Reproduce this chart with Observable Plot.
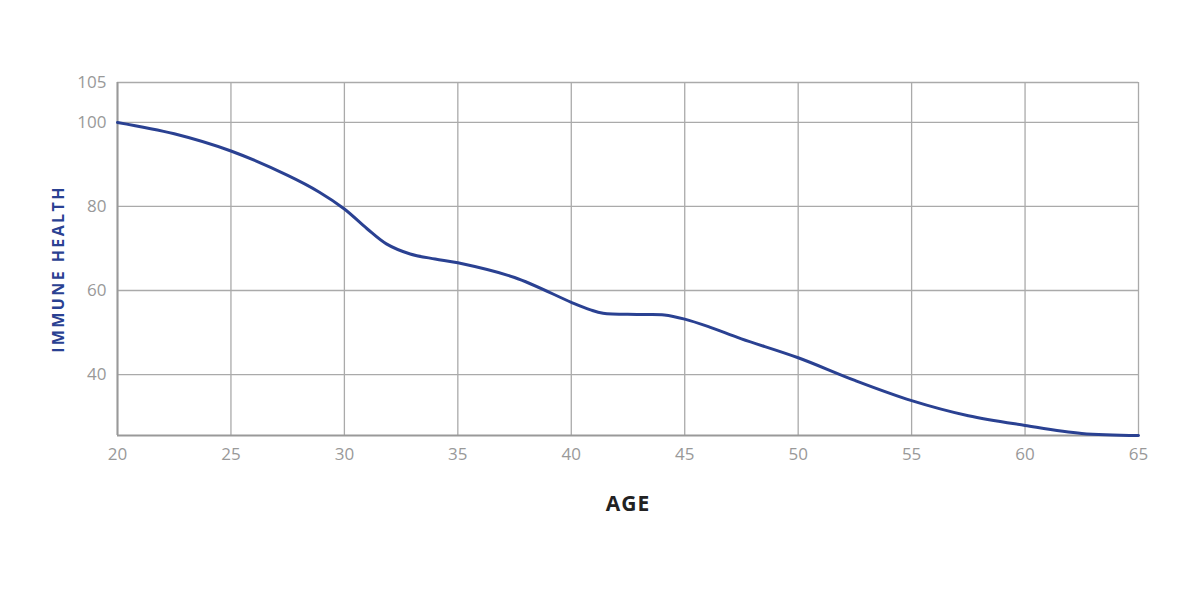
<!DOCTYPE html>
<html>
<head>
<meta charset="utf-8">
<script src="https://cdn.jsdelivr.net/npm/d3@7"></script>
<script src="https://cdn.jsdelivr.net/npm/@observablehq/plot@0.6"></script>
<style>
  html, body { margin: 0; padding: 0; background: #fff; }
  #chart svg { display: block; }
</style>
</head>
<body>
<div id="chart"></div>
<script>
const ages = [20, 22.5, 25, 27.5, 28.9, 30, 31, 31.85, 32.9, 34, 35, 37.5, 40, 40.85, 41.4, 42.9, 44.1, 45, 46.1, 47.5, 50, 52.5, 55, 57.5, 60, 62.5, 65];
const health = [100, 97.3, 93.2, 87.4, 83.4, 79.4, 74.7, 71.1, 68.7, 67.5, 66.6, 63.1, 57.2, 55.4, 54.6, 54.3, 54.2, 53.2, 51.3, 48.5, 44.0, 38.6, 33.8, 30.2, 27.9, 26.0, 25.5];
const xTicks = [20, 25, 30, 35, 40, 45, 50, 55, 60, 65];
// the top gridline sits at the top of the frame and is labelled "105" in the original
const yTicks = [40, 60, 80, 100, 109.5];
const yTickLabels = ["40", "60", "80", "100", "105"];
const xLabel = "AGE";
const yLabel = "IMMUNE HEALTH";

const data = ages.map((a, i) => ({age: a, health: health[i]}));
const font = "'Open Sans', 'Noto Sans', sans-serif";

const chart = Plot.plot({
  width: 1200,
  height: 600,
  marginLeft: 117,
  marginRight: 62,
  marginTop: 82,
  marginBottom: 165,
  style: {fontFamily: font, background: "#fff"},
  x: {domain: [20, 65]},
  y: {domain: [25.5, 109.5]},
  marks: [
    Plot.gridX(xTicks, {stroke: "#aaaaaa", strokeOpacity: 1, strokeWidth: 1.3}),
    Plot.gridY(yTicks, {stroke: "#aaaaaa", strokeOpacity: 1, strokeWidth: 1.3}),
    Plot.ruleX([20], {stroke: "#999999", strokeWidth: 2}),
    Plot.ruleY([25.5], {stroke: "#999999", strokeWidth: 2}),
    Plot.axisX(xTicks, {tickSize: 0, tickPadding: 12, fontSize: 17, fill: "#999999", label: null}),
    Plot.axisY(yTicks, {tickSize: 0, tickPadding: 11, fontSize: 17, fill: "#999999", label: null,
      tickFormat: (d) => yTickLabels[yTicks.indexOf(d)]}),
    Plot.line(data, {x: "age", y: "health", stroke: "#2a4192", strokeWidth: 3, curve: "catmull-rom"}),
    Plot.text([xLabel], {frameAnchor: "bottom", dy: 75, fontSize: 21, fontWeight: "bold", fill: "#222222", className: "xlab"}),
    Plot.text([yLabel], {frameAnchor: "left", textAnchor: "middle", dx: -59, dy: 10, rotate: -90, fontSize: 16, fontWeight: "bold", fill: "#2a4192", className: "ylab"})
  ]
});
d3.select(chart).selectAll(".ylab text").attr("letter-spacing", "2.4px");
d3.select(chart).selectAll(".xlab text").attr("letter-spacing", "1px");
document.getElementById("chart").appendChild(chart);
</script>
</body>
</html>
